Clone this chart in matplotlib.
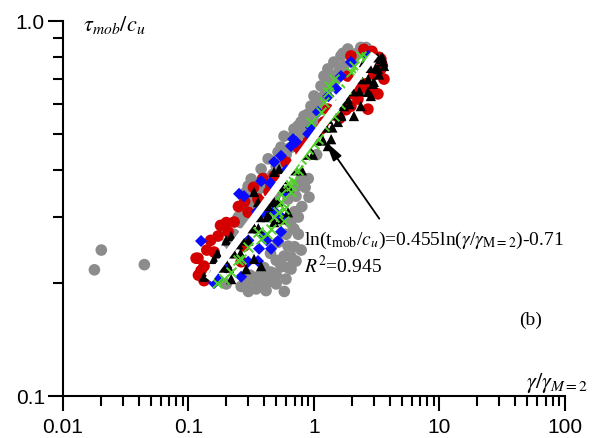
import numpy as np
import matplotlib
matplotlib.use("Agg")
import matplotlib.pyplot as plt
from matplotlib.ticker import FixedLocator, FixedFormatter, LogLocator, NullFormatter

plt.rcParams['mathtext.fontset'] = 'stix'
plt.rcParams['font.family'] = 'Liberation Sans'

# --- data (x = gamma/gamma_M=2, y = tau_mob/c_u) ---
gray_x = [0.0202, 0.0178, 0.0445,
          0.346, 0.415, 0.288, 0.499, 0.598, 0.656, 0.546, 0.719, 0.656, 0.577,
          0.546, 0.455, 0.400, 0.327, 0.288, 0.455, 0.379, 0.358, 0.263, 0.200,
          0.517, 0.621, 0.693, 0.277, 0.316, 0.288, 0.621, 0.719, 0.912, 0.746,
          0.788, 0.299, 0.316, 0.272, 0.249, 0.192, 0.207, 0.517, 0.546, 0.577,
          0.693, 0.788, 0.896, 0.316, 0.299, 0.379, 0.431, 1.64, 1.44, 1.29,
          1.20, 1.137, 1.0, 0.946, 0.833, 0.746, 0.681, 1.44, 1.37, 1.20, 1.076,
          0.946, 0.833, 1.73, 2.08, 1.18, 1.0, 1.86, 2.36, 0.415, 0.499,
          2.0, 2.2, 1.6, 1.5, 1.3, 1.25, 1.1, 1.05, 0.95, 0.9, 0.8, 0.72, 0.65,
          0.6, 0.55, 0.5, 0.47, 0.42, 0.38, 0.35, 0.33, 0.3, 0.26, 0.23, 0.22,
          0.85, 0.9, 0.8, 0.75, 0.7, 0.65, 0.6, 0.75, 0.79, 0.70, 0.5, 0.45,
          0.40, 0.42, 0.31, 0.30, 0.50, 0.62, 0.58, 1.05, 1.7, 2.6]
gray_y = [0.245, 0.217, 0.224,
          0.193, 0.191, 0.199, 0.199, 0.205, 0.218, 0.225, 0.229, 0.235, 0.236,
          0.221, 0.214, 0.208, 0.205, 0.201, 0.205, 0.201, 0.208, 0.196, 0.199,
          0.257, 0.251, 0.279, 0.315, 0.335, 0.350, 0.335, 0.341, 0.339, 0.363,
          0.379, 0.363, 0.341, 0.321, 0.300, 0.279, 0.257, 0.447, 0.461, 0.493,
          0.515, 0.538, 0.565, 0.379, 0.356, 0.403, 0.429, 0.807, 0.777, 0.745,
          0.713, 0.671, 0.631, 0.593, 0.558, 0.525, 0.493, 0.713, 0.671, 0.631, 0.593,
          0.548, 0.515, 0.759, 0.807, 0.531, 0.538, 0.842, 0.850, 0.315, 0.346,
          0.78, 0.82, 0.74, 0.70, 0.69, 0.64, 0.62, 0.58, 0.57, 0.53, 0.50, 0.48, 0.46,
          0.44, 0.42, 0.41, 0.39, 0.38, 0.36, 0.35, 0.32, 0.30, 0.29, 0.27, 0.25,
          0.36, 0.38, 0.32, 0.30, 0.31, 0.29, 0.27, 0.27, 0.245, 0.25, 0.23, 0.24,
          0.22, 0.20, 0.21, 0.19, 0.21, 0.22, 0.19, 0.44, 0.82, 0.85]

red_x = [0.119, 0.133, 0.133, 0.160, 0.172, 0.207, 0.231, 0.277, 0.263, 0.299,
         0.358, 0.438, 0.126, 0.115, 3.41, 3.61, 2.84, 2.36, 2.24, 1.97, 3.41,
         1.97, 1.86, 1.20, 1.29, 0.946, 0.833, 0.481, 0.455, 0.379, 0.788, 0.896,
         1.137, 2.84, 2.69, 3.23,
         0.12, 0.14, 0.15, 0.18, 0.20, 0.25, 0.28, 0.33, 0.39, 3.0, 3.5, 2.6, 2.0,
         1.8, 1.6, 3.3, 2.9, 2.5, 0.6, 0.75, 1.0]
red_y = [0.233, 0.222, 0.203, 0.242, 0.267, 0.274, 0.291, 0.251, 0.228, 0.309,
         0.335, 0.350, 0.216, 0.233, 0.745, 0.700, 0.647, 0.659, 0.619, 0.593, 0.792,
         0.807, 0.713, 0.538, 0.582, 0.484, 0.464, 0.386, 0.363, 0.329, 0.447, 0.476,
         0.515, 0.815, 0.582, 0.639,
         0.21, 0.245, 0.26, 0.285, 0.29, 0.32, 0.33, 0.36, 0.38, 0.72, 0.76, 0.68, 0.64,
         0.58, 0.55, 0.80, 0.83, 0.84, 0.42, 0.46, 0.50]

blue_x = [0.253, 0.126, 0.379, 0.393, 0.481, 0.455, 0.365, 0.358, 0.299, 0.263,
          0.172, 0.517, 0.546, 0.400, 0.277, 0.481, 0.546, 0.656, 0.577, 0.719,
          1.076, 1.97, 1.64, 2.69, 0.681,
          0.9, 0.95, 1.3, 1.5, 0.6, 0.45, 0.35, 0.3, 0.42, 0.55, 0.2, 0.16]
blue_y = [0.346, 0.259, 0.374, 0.309, 0.311, 0.247, 0.247, 0.229, 0.228, 0.208,
          0.205, 0.259, 0.274, 0.267, 0.341, 0.421, 0.437, 0.464, 0.350, 0.476,
          0.572, 0.777, 0.713, 0.807, 0.484,
          0.50, 0.52, 0.63, 0.66, 0.40, 0.37, 0.31, 0.26, 0.26, 0.30, 0.22, 0.20]

black_x = [0.379, 0.333, 0.219, 0.192, 0.160, 0.133, 0.219, 0.288, 0.481, 0.438,
           0.358, 0.316, 0.546, 0.621, 0.431, 0.481, 0.333, 0.481, 0.527, 0.577,
           0.693, 0.896, 1.076, 1.29, 0.431, 3.23, 3.00, 2.69, 2.36, 2.08, 1.73,
           1.64, 1.55, 1.37, 1.29, 3.41, 3.61, 2.84, 2.24, 2.50, 1.97, 1.86, 0.249,
           0.19, 0.21, 0.23, 0.26, 0.27, 0.30, 0.32, 0.36, 0.37, 0.42, 0.46, 0.52,
           0.56, 0.63, 0.70, 0.80, 0.86, 0.98, 1.04, 1.18, 1.24, 1.40, 1.46, 1.65,
           1.70, 1.92, 2.03, 2.3, 2.38, 2.7, 2.78, 3.1, 3.2, 3.5, 3.55, 3.3, 2.95,
           0.15, 0.17, 0.20]
black_y = [0.222, 0.232, 0.267, 0.232, 0.232, 0.208, 0.205, 0.218, 0.291, 0.302,
           0.329, 0.291, 0.296, 0.309, 0.335, 0.329, 0.350, 0.396, 0.403, 0.379,
           0.411, 0.464, 0.506, 0.548, 0.321, 0.745, 0.688, 0.647, 0.593, 0.558, 0.593,
           0.558, 0.538, 0.484, 0.464, 0.792, 0.759, 0.631, 0.713, 0.777, 0.659, 0.619, 0.254,
           0.22, 0.22, 0.24, 0.24, 0.26, 0.26, 0.28, 0.28, 0.30, 0.30, 0.33, 0.33,
           0.36, 0.36, 0.40, 0.40, 0.44, 0.44, 0.48, 0.48, 0.52, 0.52, 0.56, 0.56,
           0.60, 0.60, 0.65, 0.65, 0.70, 0.70, 0.75, 0.75, 0.80, 0.80, 0.78, 0.72, 0.68,
           0.21, 0.24, 0.26]

green_x = [2.36, 2.08, 1.97, 1.44, 1.32, 1.29, 1.20, 1.137, 0.946, 0.693, 0.681,
           0.656, 0.577, 0.788, 0.896, 1.076, 1.20, 1.44, 0.546, 0.517, 0.455,
           0.379, 0.263, 0.219, 0.192, 0.358, 0.577, 0.656,
           0.3, 0.42, 0.48, 0.55, 0.62, 0.75, 0.85, 1.0, 1.6, 1.8, 2.2, 2.6, 0.17, 0.25]
green_y = [0.807, 0.759, 0.731, 0.700, 0.671, 0.647, 0.608, 0.572, 0.538, 0.403, 0.374,
           0.350, 0.315, 0.429, 0.456, 0.484, 0.525, 0.558, 0.346, 0.309, 0.279,
           0.262, 0.232, 0.214, 0.205, 0.274, 0.293, 0.363,
           0.25, 0.27, 0.30, 0.33, 0.37, 0.40, 0.44, 0.47, 0.60, 0.66, 0.72, 0.80, 0.20, 0.23]

# regression shown on the figure: ln(y) = 0.455 ln(x) - 0.71
FIT_A = 0.455
FIT_B = -0.71
fit_x = np.array([0.145, 3.05])

x_ticks = [0.01, 0.1, 1, 10, 100]
x_labels = ['0.01', '0.1', '1', '10', '100']
y_ticks = [0.1, 1.0]
y_labels = ['0.1', '1.0']


def main():
    fig = plt.figure(figsize=(5.97, 4.39), dpi=100)
    ax = fig.add_axes([0.1055, 0.0957, 0.8409, 0.8542])
    ax.set_xscale('log')
    ax.set_yscale('log')

    ax.scatter(gray_x, gray_y, s=70, color='#8c8c8c', edgecolors='none', zorder=2)
    ax.scatter(red_x, red_y, s=70, color='#d40000', edgecolors='none', zorder=3)
    ax.scatter(blue_x, blue_y, s=38, marker='D', color='#0a0aff', edgecolors='none', zorder=3)
    ax.scatter(black_x, black_y, s=55, marker='^', color='black', edgecolors='none', zorder=4)
    ax.scatter(green_x, green_y, s=50, marker='x', color='#4fd12a', linewidths=1.4, zorder=5)

    fit_y = np.exp(FIT_B) * fit_x ** FIT_A
    ax.plot(fit_x, fit_y, color='white', lw=5.5, solid_capstyle='butt', zorder=6)

    ax.set_xlim(0.01, 100)
    ax.set_ylim(0.1, 1.0)

    # axes: only left/bottom, ticks pointing out
    for side in ['top', 'right']:
        ax.spines[side].set_visible(False)
    for side in ['left', 'bottom']:
        ax.spines[side].set_linewidth(1.5)

    ax.xaxis.set_major_locator(FixedLocator(x_ticks))
    ax.xaxis.set_major_formatter(FixedFormatter(x_labels))
    ax.xaxis.set_minor_locator(LogLocator(base=10, subs=np.arange(2, 10)))
    ax.xaxis.set_minor_formatter(NullFormatter())
    ax.yaxis.set_major_locator(FixedLocator(y_ticks))
    ax.yaxis.set_major_formatter(FixedFormatter(y_labels))
    ax.yaxis.set_minor_locator(LogLocator(base=10, subs=np.arange(2, 10)))
    ax.yaxis.set_minor_formatter(NullFormatter())

    ax.tick_params(which='major', direction='out', length=11, width=1.5, labelsize=15, color='black')
    ax.tick_params(which='minor', direction='out', length=7, width=1.5)
    ax.tick_params(axis='y', which='major', pad=2)
    ax.tick_params(axis='x', which='major', pad=4)

    # arrow + equation
    ax.annotate('', xy=(1.20, 0.484), xytext=(3.41, 0.293),
                arrowprops=dict(arrowstyle='-|>,head_length=0.6,head_width=0.15',
                                color='black', lw=1.3, mutation_scale=20), zorder=7)
    ax.text(0.833, 0.262, r'ln(t$_{\mathrm{mob}}$/$c_u$)=0.455ln($\gamma$/$\gamma_{\mathrm{M=2}}$)-0.71',
            family='Liberation Serif', fontsize=14, ha='left', va='center')
    ax.text(0.833, 0.224, r'$R^2$=0.945', family='Liberation Serif', fontsize=14,
            ha='left', va='center')

    fig.text(0.888, 0.271, '(b)', family='Liberation Serif', fontsize=14, ha='center', va='center')
    fig.text(0.933, 0.128, r'$\gamma/\gamma_{M=2}$', fontsize=16, ha='center', va='center')
    fig.text(0.139, 0.943, r'$\tau_{mob}/c_u$', fontsize=16, ha='left', va='center')

    fig.savefig('out.png', dpi=100)
    plt.close(fig)


if __name__ == "__main__":
    main()
